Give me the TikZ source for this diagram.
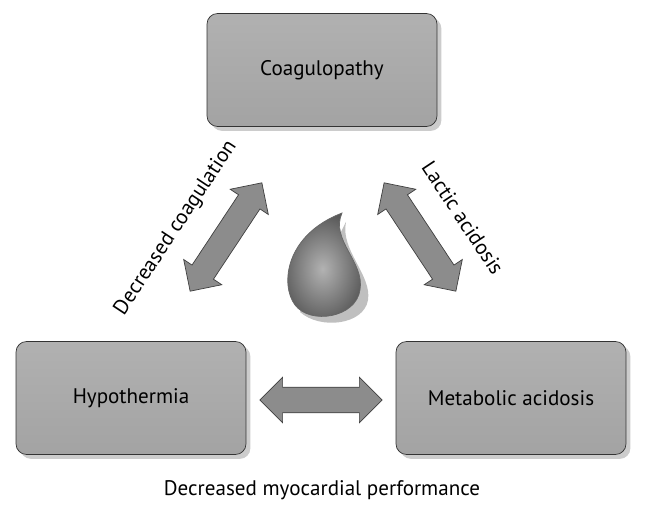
\documentclass[tikz,border=0pt]{standalone}
\usepackage{fontspec}
\setmainfont{PT Sans}
\usetikzlibrary{shapes.arrows,shadows}
\definecolor{boxgray}{HTML}{A3A3A3}
\definecolor{arrowgray}{HTML}{8C8C8C}
\tikzset{
  stage/.style={draw=black!80, rounded corners=6pt, minimum width=4.6cm, minimum height=2.26cm,
    top color=boxgray!85, bottom color=boxgray, drop shadow={opacity=0.4}, font=\large},
  link/.style={double arrow, draw=black!75, fill=arrowgray, minimum height=#1,
    inner xsep=0pt, inner ysep=0.25cm, double arrow head extend=0.2cm,
    double arrow head indent=0pt},
}
\begin{document}
\begin{tikzpicture}[x=0.02cm,y=-0.02cm]
        \useasboundingbox (0,0) rectangle (647,517);

        % Boxes
        \node[stage] (coag) at (322,70) {Coagulopathy};
        \node[stage] (hypo) at (131,398) {Hypothermia};
        \node[stage] (meta) at (511,398) {Metabolic acidosis};

        % Arrows
        \node[link=2.6cm, rotate=56.5] (leftarr) at (226,237) {};
        \node[link=2.6cm, rotate=-56.5] (rightarr) at (420,237) {};
        \node[link=2.45cm] (botarr) at (321,400) {};

        % Labels
        \node[rotate=56.5, font=\large] (lcoag) at (176,228) {Decreased coagulation};
        \node[rotate=-56.5, font=\large] (lact) at (463,218) {Lactic acidosis};
        \node[font=\large] (myo) at (322,490) {Decreased myocardial performance};

        % Drop
        \fill[black!25] (346,222) .. controls (340,250) and (372,275) .. (368,300)
              .. controls (364,325) and (320,330) .. (300,312) -- cycle;
        \shade[inner color=gray!60, outer color=black!65, draw=black!60]
              (342,213) .. controls (330,240) and (365,262) .. (360,290)
              .. controls (356,318) and (310,325) .. (295,305)
              .. controls (280,285) and (285,235) .. (342,213) -- cycle;
    \end{tikzpicture}
\end{document}
